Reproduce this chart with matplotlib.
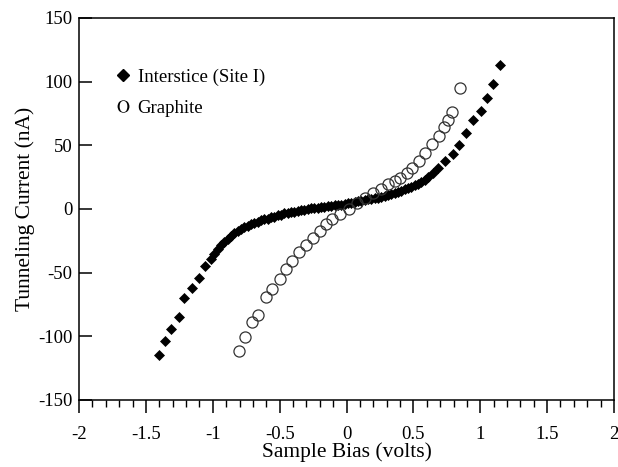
import numpy as np
import matplotlib
matplotlib.use('Agg')
import matplotlib.pyplot as plt
from matplotlib.lines import Line2D

# %% data

# Interstice (Site I)
bias_site = [-1.400, -1.357, -1.312, -1.252, -1.213, -1.157, -1.100, -1.056, -1.015,
             -0.990, -0.965, -0.940, -0.915, -0.890, -0.865, -0.840, -0.815, -0.790,
             -0.765, -0.740, -0.715, -0.690, -0.665, -0.640, -0.615, -0.590, -0.565,
             -0.540, -0.515, -0.490, -0.465, -0.440, -0.415, -0.390, -0.365, -0.340,
             -0.315, -0.290, -0.265, -0.240, -0.215, -0.190, -0.165, -0.140, -0.115,
             -0.090, -0.065, -0.040, -0.015, 0.010, 0.035, 0.060, 0.085, 0.110,
             0.135, 0.160, 0.185, 0.210, 0.235, 0.260, 0.285, 0.310, 0.335,
             0.360, 0.385, 0.410, 0.435, 0.460, 0.485, 0.510, 0.535, 0.560,
             0.585, 0.610, 0.645, 0.686, 0.737, 0.794, 0.843, 0.893, 0.944,
             1.003, 1.053, 1.093, 1.148]
current_site = [-114.5, -104.0, -94.0, -85.0, -70.0, -62.0, -54.0, -45.0, -39.0,
                -35.0, -31.5, -28.5, -26.0, -23.5, -21.0, -19.0, -17.5, -16.0,
                -14.5, -13.0, -12.0, -11.0, -10.0, -9.0, -8.0, -7.5, -6.5,
                -6.0, -5.0, -4.5, -3.5, -3.0, -2.5, -2.0, -1.5, -1.0,
                -0.5, 0.0, 0.5, 0.5, 1.0, 1.5, 1.5, 2.0, 2.5,
                3.0, 3.0, 3.5, 4.0, 4.5, 5.0, 5.5, 6.0, 6.5,
                7.0, 7.5, 8.0, 8.5, 9.0, 9.5, 10.5, 11.0, 12.0,
                12.5, 13.5, 14.5, 15.5, 16.5, 17.5, 19.0, 20.0, 21.5,
                23.0, 25.0, 28.0, 32.0, 37.7, 43.2, 50.3, 59.5, 70.0,
                77.0, 87.5, 98.5, 113.0]

# Graphite
bias_graph = [-0.805, -0.760, -0.710, -0.660, -0.600, -0.560, -0.500, -0.450, -0.410,
              -0.355, -0.300, -0.250, -0.200, -0.155, -0.110, -0.050, 0.015, 0.077,
              0.140, 0.200, 0.260, 0.310, 0.360, 0.400, 0.450, 0.490, 0.540,
              0.590, 0.640, 0.690, 0.730, 0.760, 0.790, 0.850]
current_graph = [-111.5, -100.5, -89.0, -83.0, -69.5, -63.0, -55.0, -47.0, -40.5,
                 -34.0, -28.5, -22.5, -17.0, -12.0, -7.5, -4.0, 0.0, 4.4,
                 8.4, 12.3, 16.0, 19.5, 22.0, 24.5, 28.0, 32.0, 37.5,
                 44.0, 51.0, 57.0, 64.0, 70.0, 76.0, 95.0]

x_ticks = [-2, -1.5, -1, -0.5, 0, 0.5, 1, 1.5, 2]
x_labels = ['-2', '-1.5', '-1', '-0.5', '0', '0.5', '1', '1.5', '2']
y_ticks = [-150, -100, -50, 0, 50, 100, 150]
y_labels = ['-150', '-100', '-50', '0', '50', '100', '150']

# %% plot

font = {'family': 'Liberation Serif', 'size': 13.5}
matplotlib.rc('font', **font)
plt.rcParams['mathtext.fontset'] = 'stix'
plt.rcParams['axes.unicode_minus'] = False

fig = plt.figure(figsize=(6.18, 4.67), dpi=100)
ax = fig.add_axes([0.128, 0.1435, 0.8655, 0.818])

ax.plot(bias_site, current_site, linestyle='none', marker='D', markersize=5.0,
        color='black', markeredgewidth=0.5)
ax.plot(bias_graph, current_graph, linestyle='none', marker='o', markersize=8,
        markerfacecolor='none', markeredgecolor='#333333', markeredgewidth=0.9)

ax.set_xlim(-2, 2)
ax.set_ylim(-150, 150)
ax.set_xticks(x_ticks)
ax.set_xticklabels(x_labels)
ax.set_xticks(np.arange(-2, 2.01, 0.1), minor=True)
ax.set_yticks(y_ticks)
ax.set_yticklabels(y_labels)

ax.tick_params(axis='x', which='major', direction='out', length=9, width=1.1, pad=10)
ax.tick_params(axis='x', which='minor', direction='out', length=5, width=1.0)
ax.tick_params(axis='y', which='major', direction='in', length=9, width=1.1, pad=5)
for s in ax.spines.values():
    s.set_linewidth(1.1)

ax.set_xlabel('Sample Bias (volts)', fontsize=15.5, labelpad=-1)
ax.set_ylabel('Tunneling Current (nA)', fontsize=15.5, labelpad=2)

handles = [Line2D([], [], linestyle='none', marker='D', markersize=6, color='black'),
           Line2D([], [], linestyle='none', marker=r'$\mathrm{O}$', markersize=9,
                  color='black', markeredgewidth=0)]
ax.legend(handles, ['Interstice (Site I)', 'Graphite'], loc='upper left',
          bbox_to_anchor=(0.05, 0.888), frameon=False, handlelength=1.0,
          handletextpad=0.3, labelspacing=0.75, borderaxespad=0, fontsize=13.5)

plt.savefig('out.png', dpi=100)
plt.close()
